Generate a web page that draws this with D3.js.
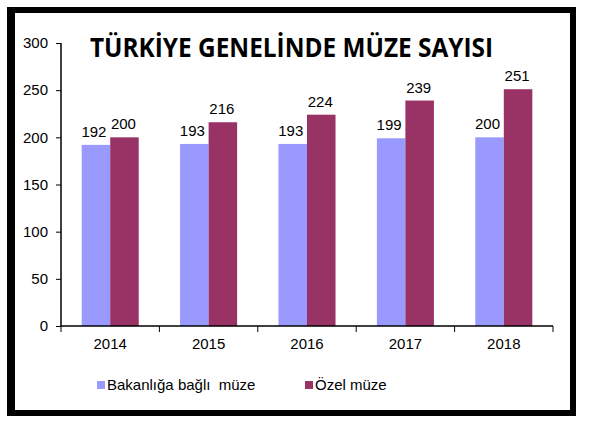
<!DOCTYPE html>
<html>
<head>
<meta charset="utf-8">
<script src="https://cdn.jsdelivr.net/npm/d3@7"></script>
<style>
  body { margin: 0; background: #fff; }
  svg text { font-family: "Liberation Sans", Arial, sans-serif; }
</style>
</head>
<body>
<svg id="chart" width="600" height="442"></svg>
<script>
const years = ['2014', '2015', '2016', '2017', '2018'];
const seriesNames = ['Bakanlığa bağlı  müze', 'Özel müze'];
const bakanlik = [192, 193, 193, 199, 200];
const ozel = [200, 216, 224, 239, 251];
const yTicks = [0, 50, 100, 150, 200, 250, 300];
const colors = ['#9999ff', '#993366'];

const svg = d3.select('#chart');

// black frame
svg.append('rect')
    .attr('x', 11).attr('y', 10)
    .attr('width', 562).attr('height', 403)
    .attr('fill', 'none')
    .attr('stroke', '#000')
    .attr('stroke-width', 6);
svg.append('rect')
    .attr('x', 7).attr('y', 7)
    .attr('width', 8).attr('height', 409)
    .attr('fill', '#000');

const plotLeft = 61, plotRight = 553, plotTop = 43, plotBottom = 326;

const x0 = d3.scaleBand().domain(years).range([plotLeft, plotRight]).padding(0);
const x1 = d3.scaleBand().domain([0, 1]).range([0, x0.bandwidth()]).paddingInner(0).paddingOuter(0.725);
const y = d3.scaleLinear().domain([0, 300]).range([plotBottom, plotTop]);

// bars
const rows = years.map((yr, i) => ({ year: yr, vals: [bakanlik[i], ozel[i]] }));
const groups = svg.selectAll('.grp')
    .data(rows)
    .enter().append('g')
    .attr('class', 'grp')
    .attr('transform', d => 'translate(' + x0(d.year) + ',0)');

groups.selectAll('rect')
    .data(d => d.vals.map((v, k) => ({ k: k, v: v })))
    .enter().append('rect')
    .attr('x', d => x1(d.k))
    .attr('y', d => y(d.v))
    .attr('width', x1.bandwidth())
    .attr('height', d => y(0) - y(d.v))
    .attr('fill', d => colors[d.k]);

groups.selectAll('text')
    .data(d => d.vals.map((v, k) => ({ k: k, v: v })))
    .enter().append('text')
    .attr('x', d => x1(d.k) + x1.bandwidth() / 2 - (d.k == 0 ? 2 : 1))
    .attr('y', d => y(d.v) - 8)
    .attr('text-anchor', 'middle')
    .attr('font-size', 15)
    .attr('fill', '#000')
    .text(d => d.v);

// y axis
const yAxis = d3.axisLeft(y).tickValues(yTicks).tickSize(5).tickPadding(8);
svg.append('g')
    .attr('transform', 'translate(' + plotLeft + ',0)')
    .call(yAxis)
    .call(g => g.select('.domain').attr('d', 'M0,' + plotTop + 'V' + plotBottom).attr('stroke', '#000').attr('stroke-width', 1.5))
    .call(g => g.selectAll('.tick line').attr('stroke', '#000'))
    .call(g => g.selectAll('.tick text').attr('font-size', 15).attr('fill', '#000')
        .attr('font-family', '"Liberation Sans", Arial, sans-serif'));

// x axis with ticks on category boundaries
const xg = svg.append('g').attr('transform', 'translate(0,' + plotBottom + ')');
xg.append('line')
    .attr('x1', plotLeft).attr('x2', plotRight)
    .attr('stroke', '#000').attr('stroke-width', 1.5);
const bounds = years.map(yr => x0(yr)).concat([plotRight]);
xg.selectAll('.xt')
    .data(bounds)
    .enter().append('line')
    .attr('class', 'xt')
    .attr('x1', d => d).attr('x2', d => d)
    .attr('y1', 0).attr('y2', 6)
    .attr('stroke', '#000');
xg.selectAll('.xl')
    .data(years)
    .enter().append('text')
    .attr('class', 'xl')
    .attr('x', d => x0(d) + x0.bandwidth() / 2)
    .attr('y', 23)
    .attr('text-anchor', 'middle')
    .attr('font-size', 15)
    .text(d => d);

// title
svg.append('text')
    .attr('x', 90).attr('y', 57)
    .attr('textLength', 403)
    .attr('lengthAdjust', 'spacingAndGlyphs')
    .style('font-family', '"Open Sans", sans-serif')
    .attr('font-weight', 'bold')
    .attr('font-size', 26)
    .attr('fill', '#000')
    .text('TÜRKİYE GENELİNDE MÜZE SAYISI');

// legend
const legX = [97, 305];
const leg = svg.selectAll('.leg')
    .data(seriesNames)
    .enter().append('g')
    .attr('class', 'leg')
    .attr('transform', (d, i) => 'translate(' + legX[i] + ',381)');
leg.append('rect')
    .attr('width', 8).attr('height', 8)
    .attr('fill', (d, i) => colors[i]);
leg.append('text')
    .attr('x', 10).attr('y', 9)
    .attr('font-size', 15)
    .style('white-space', 'pre')
    .text(d => d);
</script>
</body>
</html>
